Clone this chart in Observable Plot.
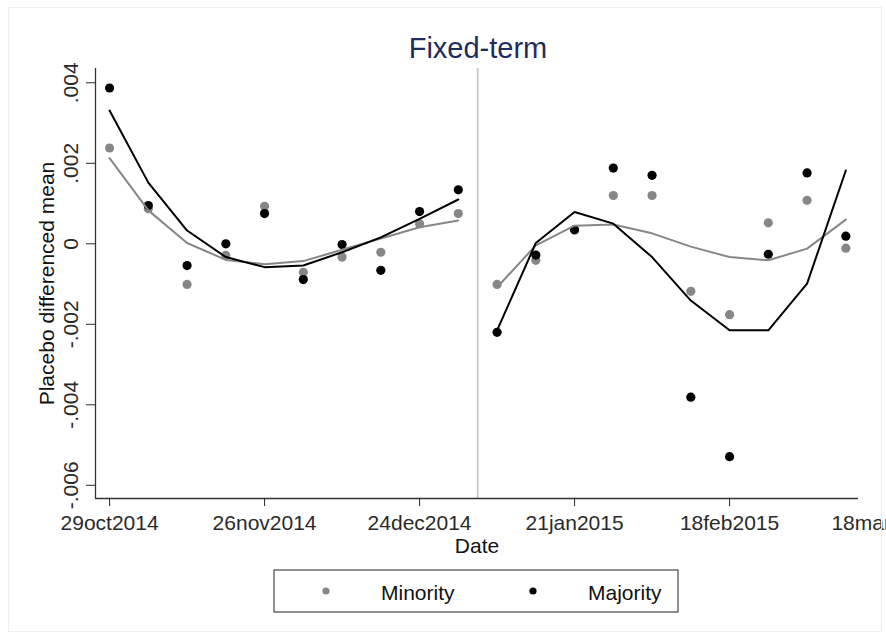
<!DOCTYPE html>
<html>
<head>
<meta charset="utf-8">
<script src="https://cdn.jsdelivr.net/npm/d3@7"></script>
<script src="https://cdn.jsdelivr.net/npm/@observablehq/plot@0.6"></script>
<style>
html, body { margin: 0; padding: 0; background: #fff; overflow: hidden; }
#wrap { position: relative; width: 886px; height: 638px; font-family: "Liberation Sans", Arial, Helvetica, sans-serif; }
#wrap > svg { position: absolute; left: 0; top: 0; }
</style>
</head>
<body>
<div id="wrap"></div>
<script>
// ---- data ----
const titleText = "Fixed-term";
const yLabel = "Placebo differenced mean";
const xLabel = "Date";
const seriesNames = ["Minority", "Majority"];
const seriesColors = ["#878787", "#000000"];

const weeks = [
  "2014-10-29", "2014-11-05", "2014-11-12", "2014-11-19", "2014-11-26",
  "2014-12-03", "2014-12-10", "2014-12-17", "2014-12-24", "2014-12-31",
  "2015-01-07", "2015-01-14", "2015-01-21", "2015-01-28", "2015-02-04",
  "2015-02-11", "2015-02-18", "2015-02-25", "2015-03-04", "2015-03-11"
];
const periods = [
  "pre", "pre", "pre", "pre", "pre", "pre", "pre", "pre", "pre", "pre",
  "post", "post", "post", "post", "post", "post", "post", "post", "post", "post"
];
const minorityPoints = [
  0.00238, 0.00087, -0.00101, -0.00029, 0.00093, -0.00071, -0.00033, -0.00021, 0.00050, 0.00075,
  -0.00101, -0.00041, 0.00034, 0.00120, 0.00120, -0.00118, -0.00176, 0.00052, 0.00108, -0.00011
];
const majorityPoints = [
  0.00387, 0.00095, -0.00054, 0.00000, 0.00075, -0.00089, -0.00002, -0.00066, 0.00080, 0.00134,
  -0.00220, -0.00028, 0.00035, 0.00188, 0.00170, -0.00381, -0.00529, -0.00026, 0.00176, 0.00019
];
const minorityFit = [
  0.00213, 0.00083, 0.00002, -0.00040, -0.00051, -0.00043, -0.00015, 0.00013, 0.00041, 0.00058,
  -0.00108, -0.00004, 0.00045, 0.00048, 0.00026, -0.00007, -0.00033, -0.00041, -0.00012, 0.00060
];
const majorityFit = [
  0.00331, 0.00152, 0.00033, -0.00033, -0.00058, -0.00054, -0.00021, 0.00016, 0.00062, 0.00110,
  -0.00215, 0.00002, 0.00079, 0.00050, -0.00033, -0.00141, -0.00215, -0.00215, -0.00099, 0.00182
];
const yTicks = [0.004, 0.002, 0, -0.002, -0.004, -0.006];
const xTickDates = ["2014-10-29", "2014-11-26", "2014-12-24", "2015-01-21", "2015-02-18"];
const clippedTickDate = ["2015-03-18"];
const cutoffDate = ["2015-01-03T12:00Z"];
const xDomain = ["2014-10-26T11:00Z", "2015-03-13T07:00Z"];
const yDomain = [-0.006328, 0.004355];

// ---- build table ----
const parse = (s) => new Date(s.length === 10 ? s + "T00:00Z" : s);
const rows = [];
[[minorityPoints, minorityFit], [majorityPoints, majorityFit]].forEach(([pts, fit], s) => {
  weeks.forEach((w, i) => rows.push({
    date: parse(w), period: periods[i], series: seriesNames[s], value: pts[i], fit: fit[i]
  }));
});

const fmtDate = (d) => d3.utcFormat("%d%b%Y")(d).toLowerCase();
const fmtY = (v) => v === 0 ? "0" : d3.format(".3f")(v).replace("\u2212", "-").replace("0.", ".");
const font = '"Liberation Sans", Arial, Helvetica, sans-serif';

const chart = Plot.plot({
  width: 886,
  height: 638,
  marginLeft: 95,
  marginRight: 28,
  marginTop: 68,
  marginBottom: 140,
  style: { fontFamily: font, fontSize: "21px", background: "transparent", color: "#2a2a2a" },
  x: { type: "utc", domain: xDomain.map(parse) },
  y: { domain: yDomain },
  color: { domain: seriesNames, range: seriesColors },
  marks: [
    Plot.ruleX(cutoffDate.map(parse), { stroke: "#c6c6c6", strokeWidth: 1.8 }),
    Plot.ruleX([parse(xDomain[0])], { stroke: "#333", strokeWidth: 1.3 }),
    Plot.ruleY([yDomain[0]], { stroke: "#333", strokeWidth: 1.3 }),
    Plot.axisY({
      ticks: yTicks, tickFormat: fmtY, tickSize: 9, tickPadding: 9,
      tickRotate: -90, textAnchor: "middle", lineAnchor: "bottom",
      fontSize: 21, label: null
    }),
    Plot.axisX({
      ticks: xTickDates.map(parse), tickFormat: fmtDate, tickSize: 8, tickPadding: 9,
      fontSize: 21, label: null
    }),
    Plot.text(clippedTickDate.map(parse), {
      x: (d) => d, text: fmtDate, frameAnchor: "bottom", dy: 17, lineAnchor: "top", fontSize: 21, fill: "#2a2a2a"
    }),
    Plot.text([yLabel], {
      text: (d) => d, frameAnchor: "left", dx: -42, rotate: -90, textAnchor: "middle",
      lineAnchor: "bottom", fontSize: 21, fill: "#111"
    }),
    Plot.text([xLabel], {
      text: (d) => d, frameAnchor: "bottom", dy: 54, lineAnchor: "bottom", fontSize: 21, fill: "#111"
    }),
    Plot.dot(rows, { x: "date", y: "value", fill: "series", r: 4.6 }),
    Plot.line(rows, { x: "date", y: "fit", stroke: "series", z: (d) => d.series + d.period, strokeWidth: 2 })
  ]
});

const wrap = d3.select("#wrap");
wrap.node().appendChild(chart);

// ---- title, frame and legend overlay ----
const ov = wrap.append("svg").attr("width", 886).attr("height", 638).style("font-family", font);
ov.append("rect").attr("x", 8.5).attr("y", 7.5).attr("width", 873).attr("height", 624)
  .attr("fill", "none").attr("stroke", "#eceef2").attr("stroke-width", 1);
ov.append("text").attr("x", 478).attr("y", 58).attr("text-anchor", "middle")
  .attr("font-size", 29).attr("fill", "#1e2d5e").text(titleText);

const lg = ov.append("g");
lg.append("rect").attr("x", 274).attr("y", 570).attr("width", 404).attr("height", 42)
  .attr("fill", "#fff").attr("stroke", "#555").attr("stroke-width", 1.3);
const legendItems = [
  { dotX: 326, textX: 381 },
  { dotX: 533, textX: 588 }
];
legendItems.forEach((it, i) => {
  lg.append("circle").attr("cx", it.dotX).attr("cy", 591).attr("r", 3.6).attr("fill", seriesColors[i]);
  lg.append("text").attr("x", it.textX).attr("y", 600).attr("font-size", 21).attr("fill", "#111").text(seriesNames[i]);
});
</script>
</body>
</html>
